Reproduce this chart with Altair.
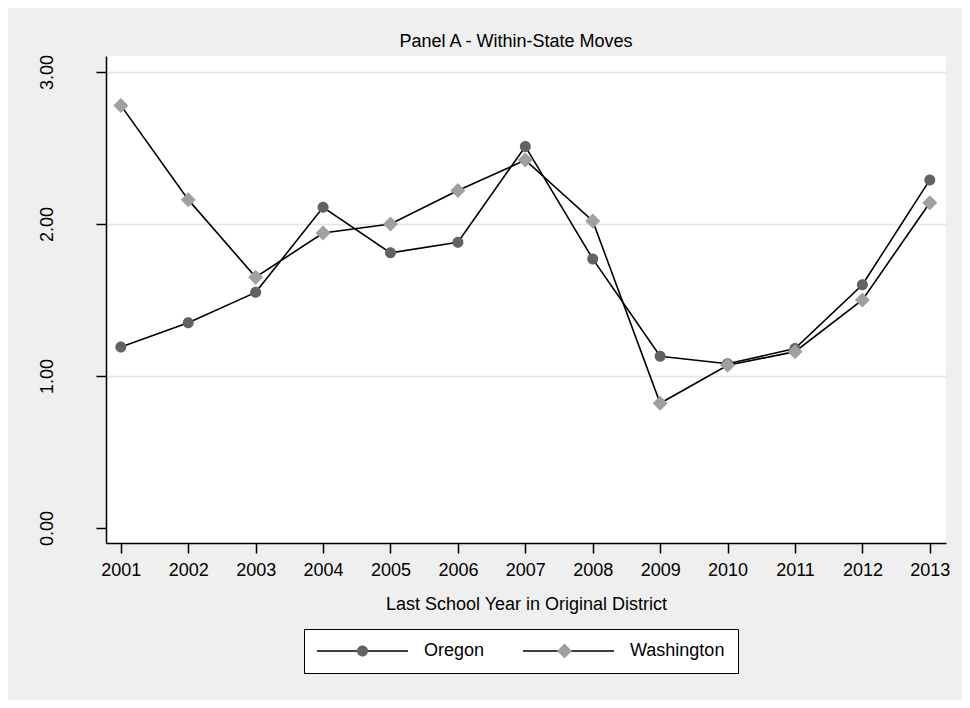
import altair as alt
import pandas as pd

years = [2001, 2002, 2003, 2004, 2005, 2006, 2007, 2008, 2009, 2010, 2011, 2012, 2013]
oregon = [1.19, 1.35, 1.55, 2.11, 1.81, 1.88, 2.51, 1.77, 1.13, 1.08, 1.18, 1.60, 2.29]
washington = [2.78, 2.16, 1.65, 1.94, 2.00, 2.22, 2.42, 2.02, 0.82, 1.07, 1.16, 1.50, 2.14]
states = ["Oregon", "Washington"]
y_ticks = [0, 1, 2, 3]

rows = []
for s, vals in zip(states, [oregon, washington]):
    for yr, v in zip(years, vals):
        rows.append({"year": yr, "value": v, "state": s, "state2": s})
df = pd.DataFrame(rows)

FONT = "Liberation Sans"
CIRCLE = ("M1.1,0 C1.1,0.607 0.607,1.1 0,1.1 C-0.607,1.1 -1.1,0.607 -1.1,0 "
          "C-1.1,-0.607 -0.607,-1.1 0,-1.1 C0.607,-1.1 1.1,-0.607 1.1,0 Z")
DIAMOND = "M0,-1.5 L1.5,0 L0,1.5 L-1.5,0 Z"
LINESYM = "M-9.1,0 L9.1,0"

x_enc = alt.X(
    "year:Q",
    scale=alt.Scale(domain=[2000.78, 2013.24], nice=False, zero=False),
    axis=alt.Axis(values=years, format="d", title="Last School Year in Original District",
                  grid=False, labelFontSize=18, titleFontSize=18, labelPadding=8,
                  titlePadding=16, tickSize=10, labelFlush=False),
)
y_enc = alt.Y(
    "value:Q",
    scale=alt.Scale(domain=[-0.099, 3.105], nice=False, zero=False),
    axis=alt.Axis(values=y_ticks, format=".2f", title=None, labelAngle=270,
                  labelAlign="center", labelBaseline="alphabetic", labelPadding=44,
                  labelFontSize=18, tickSize=10, grid=True,
                  gridColor={"condition": {"test": "datum.value === 0", "value": "white"},
                             "value": "#E4E4E4"},
                  gridWidth=1.5),
)

common_leg = dict(orient="none", legendX=198, legendY=573, direction="horizontal",
                  columns=2, title=None, symbolSize=100, symbolOffset=36.5,
                  labelOffset=52.5, columnPadding=34, padding=13, labelFontSize=18,
                  labelFont=FONT, labelColor="black", labelLimit=0)

line_leg = alt.Legend(symbolType=LINESYM, symbolStrokeWidth=1.6, symbolStrokeColor="black",
                      fillColor="white", strokeColor="black", **common_leg)
pt_leg = alt.Legend(symbolStrokeWidth=0, labelOpacity=0, symbolOpacity=1, **common_leg)

lines = alt.Chart(df).mark_line(strokeWidth=1.6).encode(
    x=x_enc, y=y_enc,
    stroke=alt.Stroke("state:N", scale=alt.Scale(range=["black", "black"]), legend=line_leg),
)

points = alt.Chart(df).mark_point(filled=True, size=100, opacity=1, strokeWidth=0).encode(
    x=x_enc, y=y_enc,
    fill=alt.Fill("state2:N", scale=alt.Scale(range=["#626262", "#A0A0A0"]), legend=pt_leg),
    shape=alt.Shape("state2:N", scale=alt.Scale(range=[CIRCLE, DIAMOND]), legend=pt_leg),
)

chart = alt.layer(lines, points).properties(
    width=840, height=487,
    autosize="none",
    padding={"left": 98, "top": 48, "right": 16, "bottom": 157},
    background="#EFEFEF",
    title=alt.TitleParams("Panel A - Within-State Moves", fontSize=18, fontWeight="normal",
                          font=FONT, color="black", anchor="middle", frame="group",
                          dx=-10, offset=3),
).configure_view(
    fill="white", stroke=None
).configure_axis(
    labelFont=FONT, titleFont=FONT, labelColor="black", titleColor="black",
    titleFontWeight="normal", domainColor="black", domainWidth=1.5,
    tickColor="black", tickWidth=1.5,
)

chart.save("out.html", embed_options={"renderer": "svg", "actions": False})
